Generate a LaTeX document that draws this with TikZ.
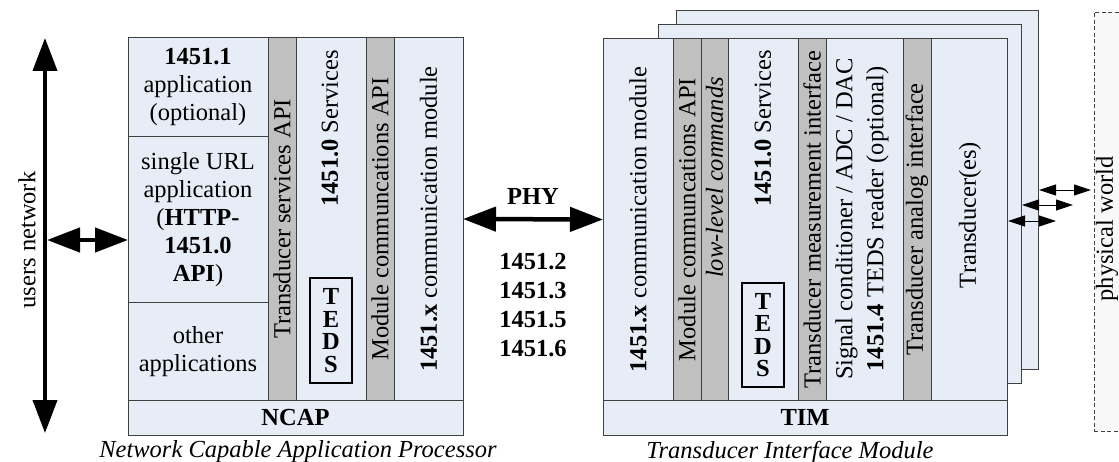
\documentclass[tikz,border=0pt]{standalone}
\usepackage{fontspec}
\setmainfont{Liberation Serif}
\usetikzlibrary{arrows.meta}
\definecolor{boxblue}{RGB}{231,237,247}
\definecolor{colgray}{RGB}{192,192,192}
\definecolor{edge}{RGB}{64,64,64}
\definecolor{pwfill}{RGB}{248,248,248}
\tikzset{
  blk/.style={draw=edge, fill=boxblue, line width=1pt, inner sep=0pt, outer sep=0pt, align=center, anchor=north west},
  gcol/.style={draw=edge, fill=colgray, line width=1pt, inner sep=0pt, outer sep=0pt, anchor=north west},
  tedsbox/.style={draw=black, fill=boxblue, line width=1.2pt, inner sep=0pt, outer sep=0pt, align=center, anchor=north west,
    font=\fontsize{24.5}{22.5}\selectfont\bfseries},
  vtxt/.style={rotate=90, inner sep=0pt},
  pwstyle/.style={draw=edge, dash pattern=on 4pt off 2.5pt, fill=pwfill, line width=0.8pt, inner sep=0pt, outer sep=0pt, anchor=north west},
  bigarrow/.style={line width=4.5pt, {Triangle[length=33pt,width=24pt]}-{Triangle[length=33pt,width=24pt]}},
  smallarrow/.style={line width=0.8pt, {Triangle[length=17pt,width=11pt]}-{Triangle[length=17pt,width=11pt]}},
}
\begin{document}
\begin{tikzpicture}[x=1pt,y=-1pt, every node/.style={font=\fontsize{24.5}{28}\selectfont}]
\path[use as bounding box] (0,0) rectangle (1119,462);

% physical world
\begin{scope}
\clip (0,0) rectangle (1119,462);
\node[pwstyle, minimum width=40pt, minimum height=419pt] (pwbox) at (1094,12) {};
\end{scope}
\node[vtxt] (pwtxt) at (1107,229) {physical world};

% back sheets of the TIM
\node[blk, minimum width=362pt, minimum height=358pt] (sheet3) at (676,11) {};
\node[blk, minimum width=363pt, minimum height=358pt] (sheet2) at (658,25) {};

% TIM columns
\node[blk,  minimum width=70pt, minimum height=361pt] (tcomm)   at (603,39) {};
\node[gcol, minimum width=28pt, minimum height=361pt] (tmcapi)  at (673,39) {};
\node[gcol, minimum width=27pt, minimum height=361pt] (tllc)    at (701,39) {};
\node[blk,  minimum width=70pt, minimum height=361pt] (tsvc)    at (728,39) {};
\node[gcol, minimum width=28pt, minimum height=361pt] (tmeas)   at (798,39) {};
\node[blk,  minimum width=77pt, minimum height=361pt] (tsig)    at (826,39) {};
\node[gcol, minimum width=28pt, minimum height=361pt] (tanalog) at (903,39) {};
\node[blk,  minimum width=76pt, minimum height=361pt] (ttrans)  at (931,39) {};
\node[blk,  minimum width=404pt, minimum height=35pt] (timband) at (603,400) {\textbf{TIM}};
\node[tedsbox, minimum width=42pt, minimum height=104pt] (tteds) at (742,283) {T\\E\\D\\S};

% NCAP columns
\node[blk,  minimum width=140pt, minimum height=99pt]  (app1) at (128,38) {\textbf{1451.1}\\application\\(optional)};
\node[blk,  minimum width=140pt, minimum height=166pt] (app2) at (128,137) {single URL\\application\\(\textbf{HTTP-}\\\textbf{1451.0}\\\textbf{API})};
\node[blk,  minimum width=140pt, minimum height=97pt]  (app3) at (128,303) {other\\applications};
\node[gcol, minimum width=28pt, minimum height=362pt] (nsapi)  at (268,38) {};
\node[blk,  minimum width=70pt, minimum height=362pt] (nsvc)   at (296,38) {};
\node[gcol, minimum width=28pt, minimum height=362pt] (nmcapi) at (366,38) {};
\node[blk,  minimum width=69pt, minimum height=362pt] (ncomm)  at (394,38) {};
\node[blk,  minimum width=335pt, minimum height=35pt] (ncapband) at (128,400) {\textbf{NCAP}};
\node[tedsbox, minimum width=42pt, minimum height=105pt] (nteds) at (310,278) {T\\E\\D\\S};

% vertical texts NCAP
\node[vtxt] (nsapitxt) at (nsapi.center) {Transducer services API};
\node[vtxt, anchor=east] (nsvctxt) at (330,50) {\textbf{1451.0} Services};
\node[vtxt] (nmcapitxt) at (nmcapi.center) {Module communcations API};
\node[vtxt] (ncommtxt) at (ncomm.center) {\textbf{1451.x} communication module};

% vertical texts TIM
\node[vtxt] (tcommtxt) at (tcomm.center) {\textbf{1451.x} communication module};
\node[vtxt] (tmcapitxt) at (tmcapi.center) {Module communcations API};
\node[vtxt, anchor=east] (tllctxt) at (714.5,77) {\textit{low-level commands}};
\node[vtxt, anchor=east] (tsvctxt) at (763,50) {\textbf{1451.0} Services};
\node[vtxt] (tmeastxt) at (tmeas.center) {Transducer measurement interface};
\node[vtxt, align=center, font=\fontsize{24.5}{31}\selectfont] (tsigtxt) at (862,219) {Signal conditioner / ADC / DAC\\\textbf{1451.4} TEDS reader (optional)};
\node[vtxt] (tanalogtxt) at (tanalog.center) {Transducer analog interface};
\node[vtxt] (ttranstxt) at (970,215) {Transducer(es)};

% users network
\coordinate (untop) at (45,38);
\coordinate (unbot) at (45,433);
\coordinate (unmid) at (47,240);
\draw[bigarrow, line width=4pt] (untop) -- (unbot);
\draw[bigarrow] (unmid) -- (unmid -| app2.west);
\node[vtxt] (untxt) at (27,240) {users network};

% PHY link
\draw[bigarrow] (ncomm.east) -- (tcomm.west);
\node (phy) at (533,196) {\textbf{PHY}};
\node[align=center, font=\fontsize{24.5}{29}\selectfont\bfseries] (stds) at (533,305) {1451.2\\1451.3\\1451.5\\1451.6};

% small arrows to physical world
\coordinate (s1a) at (1008,221); \coordinate (s1b) at (1056,221);
\coordinate (s2a) at (1022,205); \coordinate (s2b) at (1073,205);
\coordinate (s3a) at (1039,190); \coordinate (s3b) at (1091,190);
\draw[smallarrow] (s1a) -- (s1b);
\draw[smallarrow] (s2a) -- (s2b);
\draw[smallarrow] (s3a) -- (s3b);

% captions
\node (ncapcap) at (298,452) {\textit{Network Capable Application Processor}};
\node (timcap) at (790,452) {\textit{Transducer Interface Module}};
\end{tikzpicture}
\end{document}
